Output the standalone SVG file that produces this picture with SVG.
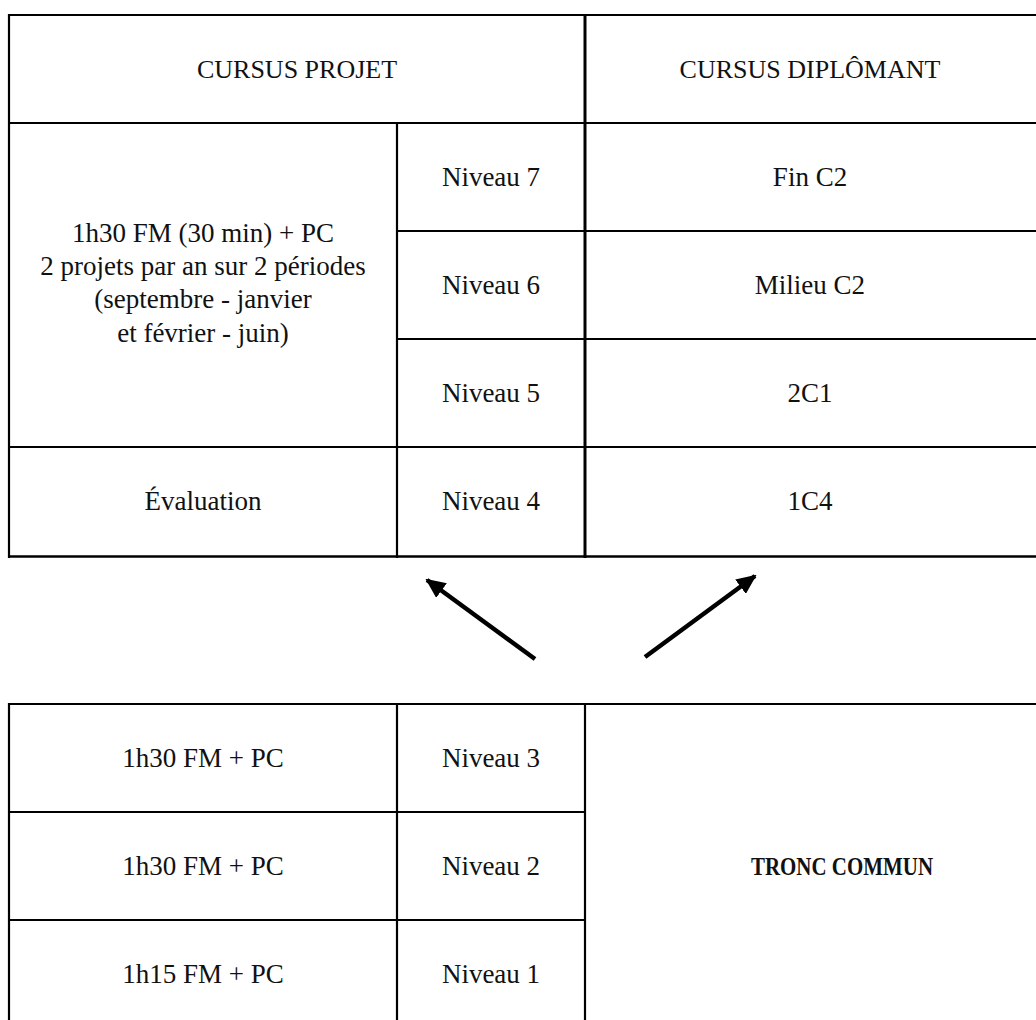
<svg xmlns="http://www.w3.org/2000/svg" width="1036" height="1020" viewBox="0 0 1036 1020">
  <style>
    .t { font-family: "Liberation Serif", "DejaVu Serif", serif; font-size: 27px; fill: #111; text-anchor: middle; }
    .h { font-size: 26px; }
    .b { font-weight: bold; font-size: 26px; }
    .g line { stroke: #000; stroke-width: 2.2; }
    .arrow { stroke: #000; stroke-width: 4.5; fill: none; marker-end: url(#ah); }
  </style>
  <defs>
    <marker id="ah" markerUnits="userSpaceOnUse" markerWidth="20" markerHeight="18" refX="18" refY="9" orient="auto">
      <path d="M0,0 L20,9 L0,18 Z" fill="#000"/>
    </marker>
  </defs>
  <rect width="1036" height="1020" fill="#fff"/>

  <g id="grid" class="g">
    <!-- top table -->
    <line x1="9" y1="15" x2="1036" y2="15"/>
    <line x1="9" y1="123" x2="1036" y2="123"/>
    <line x1="397" y1="231" x2="1036" y2="231"/>
    <line x1="397" y1="339" x2="1036" y2="339"/>
    <line x1="9" y1="447" x2="1036" y2="447"/>
    <line x1="9" y1="556.5" x2="1036" y2="556.5" style="stroke-width:2.6"/>
    <line x1="9" y1="14" x2="9" y2="558"/>
    <line x1="397" y1="123" x2="397" y2="558"/>
    <line x1="585" y1="14" x2="585" y2="558" style="stroke-width:3"/>
    <!-- bottom table -->
    <line x1="9" y1="704" x2="1036" y2="704"/>
    <line x1="9" y1="812" x2="585" y2="812"/>
    <line x1="9" y1="920" x2="585" y2="920"/>
    <line x1="9" y1="703" x2="9" y2="1020"/>
    <line x1="397" y1="704" x2="397" y2="1020"/>
    <line x1="585" y1="704" x2="585" y2="1020"/>
  </g>

  <g id="hdr-projet"><text class="t h" x="297" y="78">CURSUS PROJET</text></g>
  <g id="hdr-diplomant"><text class="t h" x="810" y="78">CURSUS DIPLÔMANT</text></g>

  <g id="projet-desc">
    <text class="t" x="203" y="242">1h30 FM (30 min) + PC</text>
    <text class="t" x="203" y="275">2 projets par an sur 2 périodes</text>
    <text class="t" x="203" y="308">(septembre - janvier</text>
    <text class="t" x="203" y="341.5">et février - juin)</text>
  </g>
  <g id="niveau7"><text class="t" x="491" y="186">Niveau 7</text></g>
  <g id="niveau6"><text class="t" x="491" y="294">Niveau 6</text></g>
  <g id="niveau5"><text class="t" x="491" y="402">Niveau 5</text></g>
  <g id="niveau4"><text class="t" x="491" y="510">Niveau 4</text></g>
  <g id="evaluation"><text class="t" x="203" y="510">Évaluation</text></g>
  <g id="finc2"><text class="t" x="810" y="186">Fin C2</text></g>
  <g id="milieuc2"><text class="t" x="810" y="294">Milieu C2</text></g>
  <g id="c2c1"><text class="t" x="810" y="402">2C1</text></g>
  <g id="c1c4"><text class="t" x="810" y="510">1C4</text></g>

  <g id="fm3"><text class="t" x="203" y="767">1h30 FM + PC</text></g>
  <g id="niveau3"><text class="t" x="491" y="767">Niveau 3</text></g>
  <g id="fm2"><text class="t" x="203" y="875">1h30 FM + PC</text></g>
  <g id="niveau2"><text class="t" x="491" y="875">Niveau 2</text></g>
  <g id="fm1"><text class="t" x="203" y="983">1h15 FM + PC</text></g>
  <g id="niveau1"><text class="t" x="491" y="983">Niveau 1</text></g>
  <g id="tronc"><text class="t b" x="842" y="875" textLength="182" lengthAdjust="spacingAndGlyphs">TRONC COMMUN</text></g>

  <g id="connectors">
    <line class="arrow" x1="535" y1="659" x2="427" y2="580"/>
    <line class="arrow" x1="645" y1="657" x2="755" y2="576"/>
  </g>
</svg>
